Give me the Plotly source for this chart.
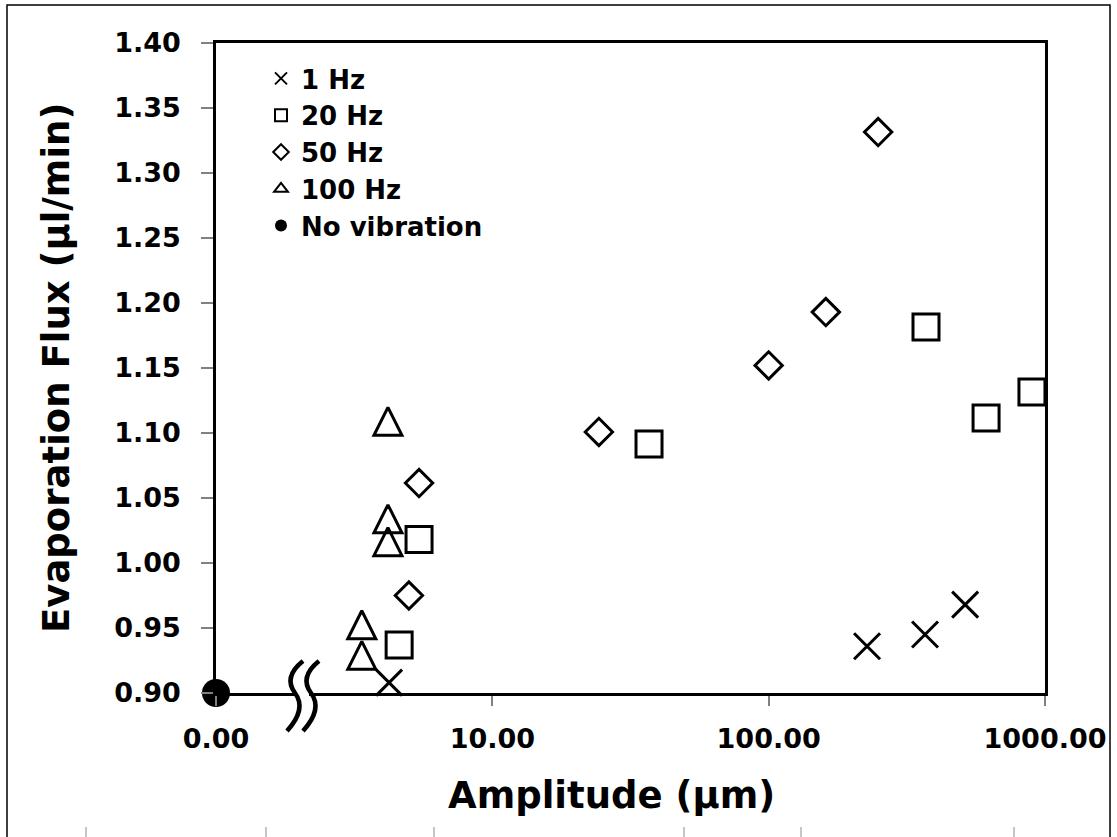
import math
import plotly.graph_objects as go

# Evaporation flux (µl/min) against vibration amplitude (µm), by frequency
amp_1hz = [4.23, 227, 368, 514]
flux_1hz = [0.908, 0.936, 0.945, 0.968]

amp_20hz = [4.60, 5.43, 36.9, 371, 612, 897]
flux_20hz = [0.937, 1.018, 1.0915, 1.1815, 1.1115, 1.1315]

amp_50hz = [4.99, 5.43, 24.3, 100, 161, 249]
flux_50hz = [0.975, 1.0615, 1.1008, 1.152, 1.193, 1.3315]

amp_100hz = [3.37, 3.37, 4.19, 4.19, 4.19]
flux_100hz = [0.929, 0.9525, 1.0164, 1.034, 1.109]

amp_none = [0.0]
flux_none = [0.90]

x_tick_vals = [0, 10, 100, 1000]
x_tick_text = ["0.00", "10.00", "100.00", "1000.00"]
y_tick_vals = [0.90, 0.95, 1.00, 1.05, 1.10, 1.15, 1.20, 1.25, 1.30, 1.35, 1.40]

# The amplitude axis is logarithmic with a break: zero amplitude sits at the
# origin of the log scale (1 µm) and is labelled 0.00.
ZERO_POS = 1.0


def on_axis(values):
    return [v if v > 0 else ZERO_POS for v in values]


FONT = "DejaVu Sans"
BLACK = "#000000"

# plot-area geometry (px)
W, H = 1117, 837
ML, MR, MT, MB = 216, 72, 43, 144
PW, PH = W - ML - MR, H - MT - MB


def px_to_paper_x(px):
    return (px - ML) / PW


def px_to_paper_y(py):
    return (H - MB - py) / PH


fig = go.Figure()

fig.add_trace(go.Scatter(
    x=on_axis(amp_1hz), y=flux_1hz, mode="markers", name="1 Hz",
    marker=dict(symbol="x-thin-open", size=26, color=BLACK,
                line=dict(width=3, color=BLACK)),
    cliponaxis=False,
))
fig.add_trace(go.Scatter(
    x=on_axis(amp_20hz), y=flux_20hz, mode="markers", name="20 Hz",
    marker=dict(symbol="square-open", size=26, color=BLACK,
                line=dict(width=3, color=BLACK)),
    cliponaxis=False,
))
fig.add_trace(go.Scatter(
    x=on_axis(amp_50hz), y=flux_50hz, mode="markers", name="50 Hz",
    marker=dict(symbol="diamond-open", size=21, color=BLACK,
                line=dict(width=3, color=BLACK)),
    cliponaxis=False,
))
# tall open triangles: a downward arrow head turned half a turn and
# pushed back by its own radius so it is centred on the point
TRI = 28
fig.add_trace(go.Scatter(
    x=on_axis(amp_100hz), y=flux_100hz, mode="markers", name="100 Hz",
    marker=dict(symbol="arrow-down-open", size=TRI, angle=180, standoff=TRI / 2,
                color=BLACK, line=dict(width=3, color=BLACK)),
    cliponaxis=False, showlegend=False,
))
fig.add_trace(go.Scatter(
    x=[None], y=[None], mode="markers", name="100 Hz",
    marker=dict(symbol="triangle-up-open", size=14, color=BLACK,
                line=dict(width=2.5, color=BLACK)),
))
fig.add_trace(go.Scatter(
    x=on_axis(amp_none), y=flux_none, mode="markers", name="No vibration",
    marker=dict(symbol="circle", size=28, color=BLACK),
    cliponaxis=False,
))

axis_common = dict(
    showline=True, linecolor=BLACK, linewidth=2.5, mirror=True,
    showgrid=False, zeroline=False,
    ticks="outside", tickcolor="#808080", tickwidth=1.5,
    tickfont=dict(family=FONT, size=27, color=BLACK, weight="bold"),
)

fig.update_xaxes(
    type="log", range=[0, 3],
    tickvals=on_axis(x_tick_vals), ticktext=x_tick_text,
    ticklen=10, ticklabelstandoff=10,
    **axis_common,
)
fig.update_yaxes(
    range=[0.90, 1.40], tickvals=y_tick_vals, tickformat=".2f",
    ticklen=12, ticklabelstandoff=15,
    **axis_common,
)

shapes = []

# axis break on the amplitude axis: a white gap with two S-shaped strokes
BREAK_X = px_to_paper_x(295)
squiggle = "M 8,32 Q -12,16 0,0 Q 12,-16 -8,-38"
shapes.append(dict(
    type="rect", xref="paper", yref="paper", xsizemode="pixel", ysizemode="pixel",
    xanchor=BREAK_X, yanchor=0, x0=1, x1=14, y0=-4, y1=4,
    fillcolor="white", line=dict(width=0), layer="above",
))
for dx in (0, 16):
    path = squiggle.replace("M 8,", f"M {8 + dx},").replace("Q -12,", f"Q {-12 + dx},") \
        .replace(" 0,0 ", f" {dx},0 ").replace("Q 12,", f"Q {12 + dx},").replace(" -8,-38", f" {-8 + dx},-38")
    shapes.append(dict(
        type="path", xref="paper", yref="paper", xsizemode="pixel", ysizemode="pixel",
        xanchor=BREAK_X, yanchor=0, path=path,
        line=dict(color=BLACK, width=4.5), layer="above",
    ))

# outer frame of the figure panel
shapes.append(dict(
    type="rect", xref="paper", yref="paper",
    x0=px_to_paper_x(7), x1=px_to_paper_x(1110),
    y0=px_to_paper_y(870), y1=px_to_paper_y(5),
    line=dict(color=BLACK, width=1.5), fillcolor="rgba(0,0,0,0)", layer="below",
))

# short ruler marks along the bottom edge
for px in (86, 266, 434, 684, 801, 1014):
    shapes.append(dict(
        type="line", xref="paper", yref="paper",
        x0=px_to_paper_x(px), x1=px_to_paper_x(px),
        y0=px_to_paper_y(827), y1=px_to_paper_y(845),
        line=dict(color="#a0a0a0", width=1.2),
    ))

annotations = [
    dict(text="Evaporation Flux (µl/min)", xref="paper", yref="paper",
         x=0, y=0.5, xshift=56 - ML, xanchor="center", yanchor="middle",
         textangle=-90, showarrow=False,
         font=dict(family=FONT, size=37, color=BLACK, weight="bold")),
    dict(text="Amplitude (µm)", xref="paper", yref="paper",
         x=0, y=0, xshift=611 - ML, yshift=-(795 - (H - MB)),
         xanchor="center", yanchor="middle", showarrow=False,
         font=dict(family=FONT, size=37, color=BLACK, weight="bold")),
]

fig.update_layout(
    width=W, height=H,
    margin=dict(l=ML, r=MR, t=MT, b=MB),
    paper_bgcolor="white", plot_bgcolor="white",
    font=dict(family=FONT, color=BLACK),
    showlegend=True,
    legend=dict(
        x=px_to_paper_x(261), y=px_to_paper_y(55),
        xanchor="left", yanchor="top",
        bgcolor="rgba(0,0,0,0)", borderwidth=0,
        itemsizing="constant", tracegroupgap=0,
        font=dict(family=FONT, size=26, color=BLACK, weight="bold"),
    ),
    shapes=shapes,
    annotations=annotations,
)

fig.write_html("out.html")
